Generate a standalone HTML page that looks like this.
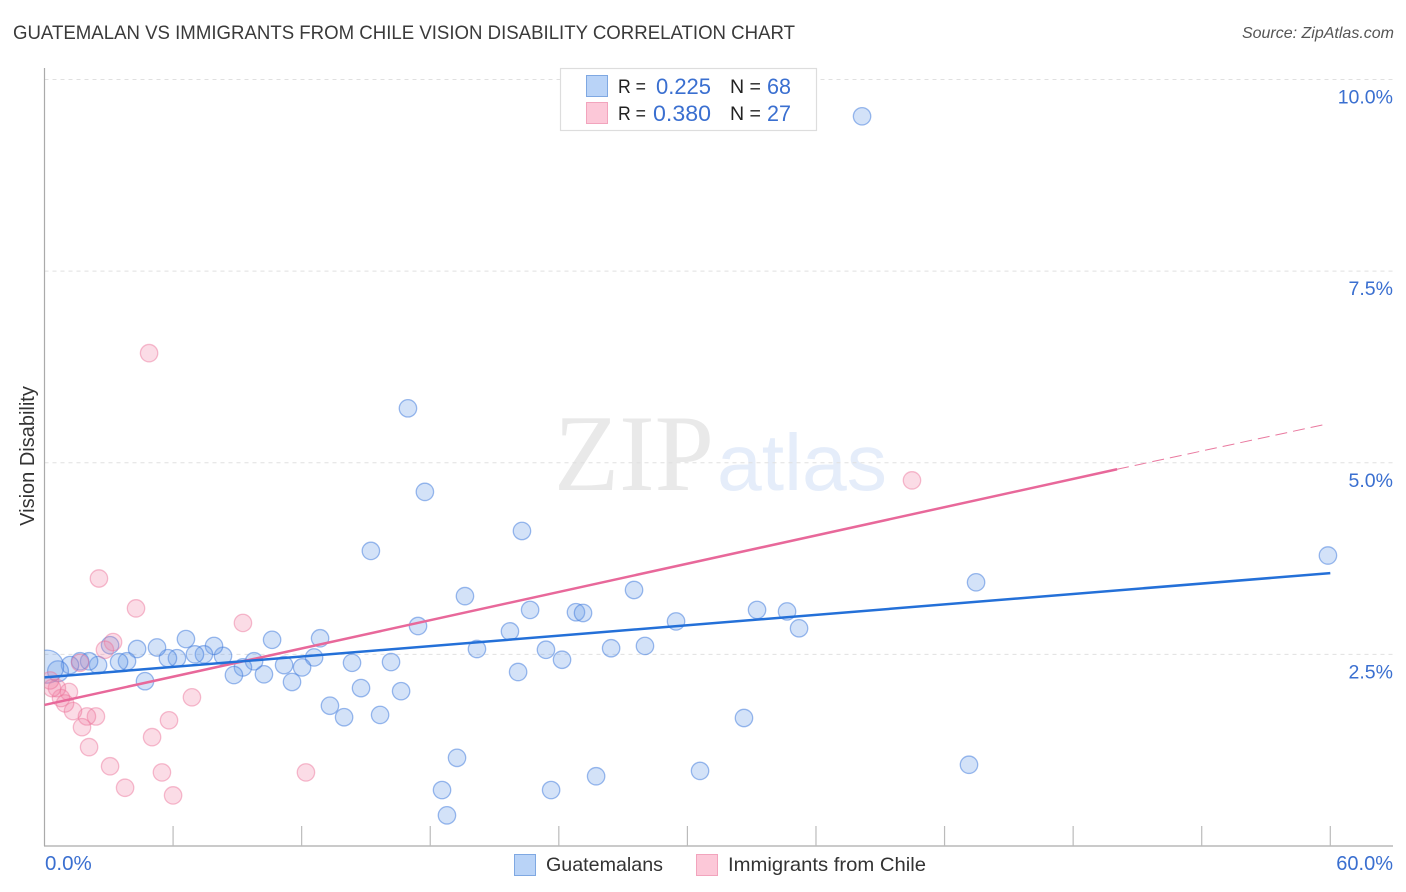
<!DOCTYPE html>
<html>
<head>
<meta charset="utf-8">
<style>
html,body{margin:0;padding:0;background:#fff;width:1406px;height:892px;overflow:hidden}
svg{display:block;font-family:"Liberation Sans",sans-serif}
</style>
</head>
<body>
<svg id="chart" xmlns="http://www.w3.org/2000/svg" width="1406" height="892" viewBox="0 0 1406 892">
  <defs><clipPath id="plot-clip"><rect x="44.5" y="60" width="1350" height="786"/></clipPath></defs>
  <rect width="1406" height="892" fill="#fff"/>
  <text x="13" y="39" font-size="19" fill="#3a3a3a" textLength="782" lengthAdjust="spacingAndGlyphs">GUATEMALAN VS IMMIGRANTS FROM CHILE VISION DISABILITY CORRELATION CHART</text>
  <text x="1394" y="38" font-size="16" font-style="italic" fill="#555" text-anchor="end">Source: ZipAtlas.com</text>
  <g>
    <text x="554" y="490" font-family="'Liberation Serif',serif" font-size="109" fill="#e9e9e9" textLength="160" lengthAdjust="spacingAndGlyphs">ZIP</text>
    <text x="717" y="490" font-size="80" fill="#e5edfa" textLength="170" lengthAdjust="spacingAndGlyphs">atlas</text>
  </g>
  <g id="grid"></g>
  <g id="axes"></g>
  <g id="marks" clip-path="url(#plot-clip)"></g>
  <g id="trends"></g>
  <g>
    <rect x="560.5" y="68.5" width="256" height="62" fill="#fff" stroke="#ddd" stroke-width="1.2"/>
    <rect x="586.5" y="75.5" width="21" height="21" fill="#b9d3f7" stroke="#7fa8e2"/>
    <rect x="586.5" y="102.5" width="21" height="21" fill="#fcc8d8" stroke="#f2a4bd"/>
    <g font-size="19" fill="#222">
      <text x="618" y="93" textLength="28" lengthAdjust="spacingAndGlyphs">R =</text>
      <text x="730" y="93" textLength="31" lengthAdjust="spacingAndGlyphs">N =</text>
      <text x="618" y="120" textLength="28" lengthAdjust="spacingAndGlyphs">R =</text>
      <text x="730" y="120" textLength="31" lengthAdjust="spacingAndGlyphs">N =</text>
    </g>
    <g font-size="22" fill="#3a6fd0">
      <text x="656" y="94" textLength="55" lengthAdjust="spacingAndGlyphs">0.225</text>
      <text x="767" y="94" textLength="24" lengthAdjust="spacingAndGlyphs">68</text>
      <text x="653" y="121" textLength="58" lengthAdjust="spacingAndGlyphs">0.380</text>
      <text x="767" y="121" textLength="24" lengthAdjust="spacingAndGlyphs">27</text>
    </g>
  </g>
  <g>
    <rect x="514.5" y="854.5" width="21" height="21" fill="#b9d3f7" stroke="#7fa8e2"/>
    <text x="546" y="871" font-size="19.5" fill="#333" textLength="117" lengthAdjust="spacingAndGlyphs">Guatemalans</text>
    <rect x="696.5" y="854.5" width="21" height="21" fill="#fcc8d8" stroke="#f2a4bd"/>
    <text x="728" y="871" font-size="19.5" fill="#333" textLength="198" lengthAdjust="spacingAndGlyphs">Immigrants from Chile</text>
  </g>
  <text transform="translate(34,456) rotate(-90)" font-size="20" fill="#333" text-anchor="middle">Vision Disability</text>
</svg>
<script>
var blueX = [38.15,16.96,17.75,15.23,22.28,59.89,43.47,19.62,27.51,22.66,24.80,25.13,33.25,34.65,29.47,35.21,17.43,21.72,20.18,23.40,24.15,26.44,28.02,22.10,16.17,14.35,14.77,16.64,13.32,13.98,15.66,32.64,19.25,18.55,18.78,23.64,25.74,30.59,43.14,12.86,10.62,12.58,11.18,12.02,11.55,10.24,9.78,9.26,8.84,8.33,7.91,7.44,7.02,6.60,6.18,5.76,5.25,4.69,4.32,3.85,3.48,3.06,2.50,2.08,1.66,1.19,0.63,0.12];
var blueY = [9.52,5.71,4.62,3.85,4.11,3.79,3.44,3.26,3.34,3.08,3.05,3.04,3.08,3.06,2.93,2.84,2.87,2.80,2.57,2.56,2.43,2.58,2.61,2.27,2.40,2.39,2.06,2.02,1.83,1.68,1.71,1.67,1.15,0.73,0.40,0.73,0.91,0.98,1.06,2.71,2.69,2.46,2.36,2.33,2.14,2.24,2.41,2.33,2.23,2.48,2.61,2.50,2.50,2.70,2.45,2.45,2.59,2.15,2.57,2.41,2.40,2.62,2.36,2.41,2.41,2.36,2.28,2.34];
var blueSize = [1,1,1,1,1,1,1,1,1,1,1,1,1,1,1,1,1,1,1,1,1,1,1,1,1,1,1,1,1,1,1,1,1,1,1,1,1,1,1,1,1,1,1,1,1,1,1,1,1,1,1,1,1,1,1,1,1,1,1,1,1,1,1,1,1,1,1.2,1.9];
var pinkX = [4.88,40.48,2.54,4.27,9.26,3.20,2.82,6.88,1.14,5.81,5.02,2.40,1.98,1.75,1.33,0.96,0.77,0.58,0.35,0.26,1.66,2.08,3.06,3.76,5.48,6.00,12.20];
var pinkY = [6.43,4.77,3.49,3.10,2.91,2.66,2.56,1.94,2.01,1.64,1.42,1.69,1.69,1.55,1.76,1.86,1.93,2.06,2.06,2.16,2.39,1.29,1.04,0.76,0.96,0.66,0.96];
var xTickValues = [0,6,12,18,24,30,36,42,48,54,60];
var yGridValues = [2.5,5,7.5,10];
var yTickLabels = ["2.5%","5.0%","7.5%","10.0%"];
var xEndLabels = ["0.0%","60.0%"];
var blueTrendX = [0,60];
var blueTrendY = [2.20,3.56];
var pinkTrendX = [0,50.05];
var pinkTrendY = [1.84,4.915];
var pinkDashX = [50.05,59.75];
var pinkDashY = [4.915,5.50];

var NS = 'http://www.w3.org/2000/svg';
function sx(v){ return 44.5 + v * 21.43; }
function sy(v){ return 846 - v * 76.65; }
function mk(parent, tag, attrs){
  var el = document.createElementNS(NS, tag);
  for (var k in attrs) el.setAttribute(k, attrs[k]);
  parent.appendChild(el);
  return el;
}
var grid = document.getElementById('grid');
var axes = document.getElementById('axes');
var marks = document.getElementById('marks');
var trends = document.getElementById('trends');

yGridValues.forEach(function(v, i){
  var g = mk(grid, 'line', {x1:44.5, x2:1393, y1:sy(v), y2:sy(v), stroke:'#e0e0e0', 'stroke-width':1, 'stroke-dasharray':'4 4'});
  
  
  var attrs = {x:1393, y:sy(v)+24, 'font-size':19.5, fill:'#3a6fd0', 'text-anchor':'end'};
  var t = mk(axes, 'text', attrs);
  t.textContent = yTickLabels[i];
  
  
});

var yAxis = mk(axes, 'line', {x1:44.5, x2:44.5, y1:68, y2:846, stroke:'#aaa', 'stroke-width':1.2});


var xAxis = mk(axes, 'line', {x1:44, x2:1393, y1:846, y2:846, stroke:'#aaa', 'stroke-width':1.2});



xTickValues.forEach(function(v){
  if (v === 0) return;
  var tk = mk(axes, 'line', {x1:sx(v), x2:sx(v), y1:826, y2:846, stroke:'#bbb', 'stroke-width':1.2});
  
  
});

var x0 = mk(axes, 'text', {x:45, y:870, 'font-size':20.5, fill:'#3a6fd0'});
x0.textContent = xEndLabels[0];


var x1 = mk(axes, 'text', {x:1393, y:870, 'font-size':20, fill:'#3a6fd0', 'text-anchor':'end'});
x1.textContent = xEndLabels[1];



blueX.forEach(function(v, i){
  var c = mk(marks, 'circle', {cx:sx(v), cy:sy(blueY[i]), r:8.7*blueSize[i], fill:'rgba(110,160,232,0.3)', stroke:'rgba(60,120,220,0.5)', 'stroke-width':1.3});
  
  
});
pinkX.forEach(function(v, i){
  var c = mk(marks, 'circle', {cx:sx(v), cy:sy(pinkY[i]), r:8.7, fill:'rgba(242,130,165,0.28)', stroke:'rgba(235,110,150,0.45)', 'stroke-width':1.3});
  
  
});

var pd = mk(trends, 'line', {x1:sx(pinkDashX[0]), y1:sy(pinkDashY[0]), x2:sx(pinkDashX[1]), y2:sy(pinkDashY[1]), stroke:'#e9799f', 'stroke-width':1, 'stroke-dasharray':'12 6'});


var pt = mk(trends, 'line', {x1:sx(pinkTrendX[0]), y1:sy(pinkTrendY[0]), x2:sx(pinkTrendX[1]), y2:sy(pinkTrendY[1]), stroke:'#e8689a', 'stroke-width':2.5});


var bt = mk(trends, 'line', {x1:sx(blueTrendX[0]), y1:sy(blueTrendY[0]), x2:sx(blueTrendX[1]), y2:sy(blueTrendY[1]), stroke:'#2470d8', 'stroke-width':2.5});


</script>
</body>
</html>
